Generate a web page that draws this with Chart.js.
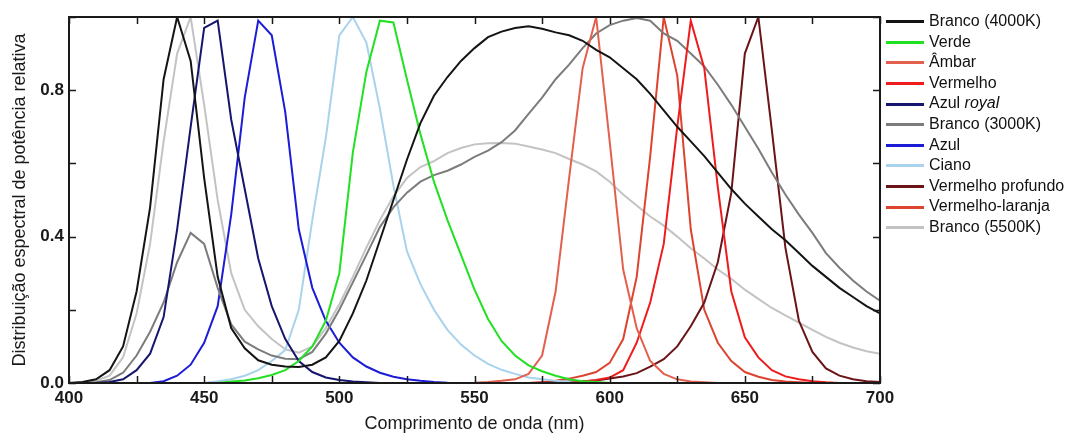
<!DOCTYPE html>
<html>
<head>
<meta charset="utf-8">
<script src="https://cdn.jsdelivr.net/npm/chart.js@4"></script>
<style>
    body { margin: 0; background: #fff; }
    #wrap { position: relative; width: 1066px; height: 435px; }
    #legend { position: absolute; left: 0; top: 0; font-family: "Liberation Sans", Arial, sans-serif; font-size: 16px; color: #111; }
    .leg-item { position: absolute; left: 886px; height: 20px; line-height: 20px; white-space: nowrap; }
    .leg-line { display: inline-block; width: 38px; height: 3px; vertical-align: middle; margin-right: 5px; }
</style>
</head>
<body>
<div id="wrap">
    <canvas id="chart" width="1066" height="435"></canvas>
    <div id="legend"></div>
</div>
<script>
// wavelength grid (nm)
const wavelengths = [400, 405, 410, 415, 420, 425, 430, 435, 440, 445, 450, 455, 460, 465, 470, 475, 480, 485, 490, 495,
    500, 505, 510, 515, 520, 525, 530, 535, 540, 545, 550, 555, 560, 565, 570, 575, 580, 585, 590, 595,
    600, 605, 610, 615, 620, 625, 630, 635, 640, 645, 650, 655, 660, 665, 670, 675, 680, 685, 690, 695, 700];

const branco4000 = [0, 0.003, 0.01, 0.035, 0.1, 0.25, 0.48, 0.83, 1.0, 0.88, 0.56, 0.29, 0.15, 0.095, 0.062, 0.05, 0.045, 0.044, 0.05, 0.07,
    0.115, 0.19, 0.28, 0.39, 0.5, 0.61, 0.71, 0.785, 0.836, 0.88, 0.915, 0.945, 0.96, 0.97, 0.975, 0.968, 0.958, 0.95, 0.935, 0.91,
    0.89, 0.86, 0.83, 0.79, 0.745, 0.7, 0.66, 0.62, 0.575, 0.53, 0.49, 0.455, 0.42, 0.39, 0.355, 0.32, 0.29, 0.26, 0.235, 0.21, 0.19];

const verde = [0, 0, 0, 0, 0, 0, 0, 0, 0, 0, 0, 0, 0.004, 0.007, 0.013, 0.022, 0.035, 0.06, 0.1, 0.17,
    0.3, 0.63, 0.85, 0.99, 0.985, 0.83, 0.68, 0.55, 0.445, 0.35, 0.255, 0.175, 0.115, 0.075, 0.048, 0.032, 0.02, 0.01, 0.005, 0.003,
    0, 0, 0, 0, 0, 0, 0, 0, 0, 0, 0, 0, 0, 0, 0, 0, 0, 0, 0, 0, 0];

const ambar = [0, 0, 0, 0, 0, 0, 0, 0, 0, 0, 0, 0, 0, 0, 0, 0, 0, 0, 0, 0,
    0, 0, 0, 0, 0, 0, 0, 0, 0, 0, 0.001, 0.003, 0.006, 0.01, 0.025, 0.075, 0.25, 0.56, 0.86, 1.0,
    0.66, 0.31, 0.15, 0.06, 0.025, 0.01, 0.004, 0.002, 0, 0, 0, 0, 0, 0, 0, 0, 0, 0, 0, 0, 0];

const vermelho = [0, 0, 0, 0, 0, 0, 0, 0, 0, 0, 0, 0, 0, 0, 0, 0, 0, 0, 0, 0,
    0, 0, 0, 0, 0, 0, 0, 0, 0, 0, 0, 0, 0, 0, 0, 0, 0, 0, 0.004, 0.008,
    0.015, 0.035, 0.11, 0.22, 0.38, 0.7, 0.99, 0.86, 0.535, 0.25, 0.125, 0.07, 0.035, 0.018, 0.01, 0.005, 0.002, 0, 0, 0, 0];

const azulRoyal = [0, 0, 0, 0.003, 0.01, 0.035, 0.08, 0.18, 0.42, 0.7, 0.97, 0.99, 0.72, 0.53, 0.34, 0.21, 0.12, 0.06, 0.03, 0.015,
    0.008, 0.004, 0.002, 0, 0, 0, 0, 0, 0, 0, 0, 0, 0, 0, 0, 0, 0, 0, 0, 0,
    0, 0, 0, 0, 0, 0, 0, 0, 0, 0, 0, 0, 0, 0, 0, 0, 0, 0, 0, 0, 0];

const branco3000 = [0, 0, 0.002, 0.008, 0.028, 0.075, 0.14, 0.22, 0.33, 0.41, 0.38, 0.26, 0.16, 0.113, 0.092, 0.075, 0.066, 0.065, 0.085, 0.135,
    0.2, 0.275, 0.35, 0.426, 0.48, 0.52, 0.55, 0.568, 0.58, 0.597, 0.618, 0.635, 0.658, 0.69, 0.735, 0.78, 0.83, 0.87, 0.915, 0.955,
    0.978, 0.99, 0.997, 0.99, 0.955, 0.935, 0.9, 0.865, 0.815, 0.76, 0.7, 0.64, 0.575, 0.515, 0.46, 0.41, 0.355, 0.315, 0.28, 0.25, 0.225];

const azul = [0, 0, 0, 0, 0, 0, 0, 0.005, 0.02, 0.05, 0.11, 0.21, 0.46, 0.78, 0.99, 0.95, 0.74, 0.42, 0.26, 0.17,
    0.11, 0.07, 0.045, 0.028, 0.017, 0.01, 0.006, 0.003, 0.001, 0, 0, 0, 0, 0, 0, 0, 0, 0, 0, 0,
    0, 0, 0, 0, 0, 0, 0, 0, 0, 0, 0, 0, 0, 0, 0, 0, 0, 0, 0, 0, 0];

const ciano = [0, 0, 0, 0, 0, 0, 0, 0, 0, 0, 0, 0.005, 0.01, 0.02, 0.035, 0.06, 0.09, 0.2, 0.445, 0.67,
    0.95, 1.0, 0.93, 0.75, 0.54, 0.36, 0.27, 0.2, 0.145, 0.105, 0.075, 0.052, 0.036, 0.025, 0.015, 0.01, 0.006, 0.003, 0, 0,
    0, 0, 0, 0, 0, 0, 0, 0, 0, 0, 0, 0, 0, 0, 0, 0, 0, 0, 0, 0, 0];

const vermelhoProfundo = [0, 0, 0, 0, 0, 0, 0, 0, 0, 0, 0, 0, 0, 0, 0, 0, 0, 0, 0, 0,
    0, 0, 0, 0, 0, 0, 0, 0, 0, 0, 0, 0, 0, 0, 0, 0, 0.002, 0.004, 0.005, 0.007,
    0.012, 0.018, 0.027, 0.045, 0.065, 0.1, 0.155, 0.22, 0.33, 0.52, 0.9, 1.0, 0.69, 0.37, 0.17, 0.085, 0.04, 0.02, 0.01, 0.005, 0.003];

const vermelhoLaranja = [0, 0, 0, 0, 0, 0, 0, 0, 0, 0, 0, 0, 0, 0, 0, 0, 0, 0, 0, 0,
    0, 0, 0, 0, 0, 0, 0, 0, 0, 0, 0, 0, 0, 0, 0, 0.003, 0.006, 0.012, 0.02, 0.03,
    0.055, 0.12, 0.29, 0.62, 1.0, 0.84, 0.42, 0.2, 0.11, 0.06, 0.03, 0.017, 0.008, 0.004, 0.002, 0, 0, 0, 0, 0, 0];

const branco5500 = [0, 0.002, 0.006, 0.02, 0.07, 0.19, 0.38, 0.66, 0.9, 1.0, 0.76, 0.5, 0.3, 0.2, 0.155, 0.12, 0.092, 0.083, 0.1, 0.15,
    0.215, 0.29, 0.37, 0.445, 0.51, 0.56, 0.59, 0.606, 0.628, 0.642, 0.652, 0.655, 0.656, 0.654, 0.646, 0.638, 0.628, 0.612, 0.597, 0.578,
    0.55, 0.515, 0.485, 0.455, 0.43, 0.4, 0.368, 0.34, 0.31, 0.285, 0.255, 0.23, 0.205, 0.185, 0.165, 0.145, 0.126, 0.11, 0.097, 0.087, 0.08];

const seriesLabels = ['Branco (4000K)', 'Verde', 'Âmbar', 'Vermelho', 'Azul royal', 'Branco (3000K)',
    'Azul', 'Ciano', 'Vermelho profundo', 'Vermelho-laranja', 'Branco (5500K)'];
const seriesValues = [branco4000, verde, ambar, vermelho, azulRoyal, branco3000,
    azul, ciano, vermelhoProfundo, vermelhoLaranja, branco5500];
const seriesColors = ['#141414', '#22e022', '#e4604e', '#ee1c1c', '#16166e', '#7c7c7c',
    '#1c1cd6', '#a9d3ec', '#6b1418', '#dc4430', '#c3c3c3'];

const yLabelled = [0, 4, 8]; // tenths that carry a label

const FONT = '"Liberation Sans", Arial, sans-serif';

// inward tick marks on all four sides + the frame
const framePlugin = {
    id: 'frame',
    afterDatasetsDraw(chart) {
        const { ctx, chartArea: a, scales: { x, y } } = chart;
        const len = 7;
        ctx.save();
        ctx.strokeStyle = '#1a1a1a';
        ctx.lineWidth = 1.5;
        ctx.beginPath();
        x.ticks.forEach(t => {
            const px = Math.round(x.getPixelForValue(t.value)) + 0.5;
            ctx.moveTo(px, a.bottom); ctx.lineTo(px, a.bottom - len);
            ctx.moveTo(px, a.top); ctx.lineTo(px, a.top + len);
        });
        y.ticks.forEach(t => {
            const py = Math.round(y.getPixelForValue(t.value)) + 0.5;
            ctx.moveTo(a.left, py); ctx.lineTo(a.left + len, py);
            ctx.moveTo(a.right, py); ctx.lineTo(a.right - len, py);
        });
        ctx.stroke();
        ctx.lineWidth = 2;
        ctx.strokeRect(a.left, a.top, a.right - a.left, a.bottom - a.top);
        ctx.restore();
    }
};

const datasets = seriesLabels.map((label, i) => ({
    label: label,
    data: wavelengths.map((w, j) => ({ x: w, y: seriesValues[i][j] })),
    borderColor: seriesColors[i],
    backgroundColor: seriesColors[i],
    borderWidth: 2,
    pointRadius: 0,
    tension: 0,
    fill: false
}));

new Chart(document.getElementById('chart'), {
    type: 'line',
    data: { datasets: datasets },
    plugins: [framePlugin],
    options: {
        responsive: false,
        animation: false,
        devicePixelRatio: 1,
        layout: { padding: { top: 17, right: 186, left: 0, bottom: 0 } },
        plugins: {
            legend: { display: false },
            tooltip: { enabled: false }
        },
        scales: {
            x: {
                type: 'linear',
                min: 400,
                max: 700,
                afterFit: (scale) => { scale.height = 52; },
                grid: { display: false, drawTicks: false },
                border: { display: false },
                ticks: {
                    stepSize: 25,
                    autoSkip: false,
                    maxRotation: 0,
                    padding: 5,
                    color: '#1a1a1a',
                    font: { family: FONT, size: 17, weight: 'bold' },
                    callback: (v) => (v % 50 === 0 ? String(v) : '')
                },
                title: {
                    display: true,
                    text: 'Comprimento de onda (nm)',
                    color: '#1a1a1a',
                    padding: { top: 0, bottom: 0 },
                    font: { family: FONT, size: 18 }
                }
            },
            y: {
                min: 0,
                max: 1,
                afterFit: (scale) => { scale.width = 69; },
                grid: { display: false, drawTicks: false },
                border: { display: false },
                ticks: {
                    stepSize: 0.2,
                    autoSkip: false,
                    padding: 5,
                    color: '#1a1a1a',
                    font: { family: FONT, size: 17, weight: 'bold' },
                    callback: (v) => {
                        const tenth = Math.round(v * 10);
                        return yLabelled.includes(tenth) ? (tenth / 10).toFixed(1) : '';
                    }
                },
                title: {
                    display: true,
                    text: 'Distribuição espectral de potência relativa',
                    color: '#1a1a1a',
                    padding: { top: 9, bottom: 0 },
                    font: { family: FONT, size: 18 }
                }
            }
        }
    }
});

// legend on the right, built from the same arrays ("royal" in italics as in the original)
const legendEl = document.getElementById('legend');
seriesLabels.forEach((label, i) => {
    const item = document.createElement('div');
    item.className = 'leg-item';
    item.style.top = (11 + i * 20.6) + 'px';
    const text = label.replace('royal', '<i>royal</i>');
    item.innerHTML = `<span class="leg-line" style="background:${seriesColors[i]}"></span>${text}`;
    legendEl.appendChild(item);
});
</script>
</body>
</html>
